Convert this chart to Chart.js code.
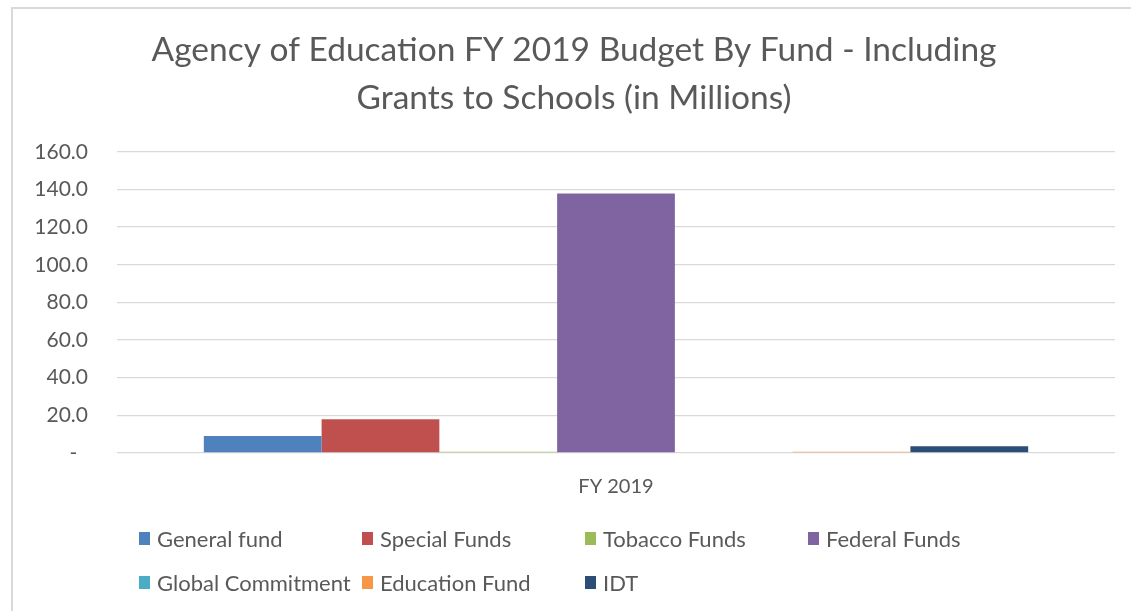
<!DOCTYPE html>
<html>
<head>
<meta charset="utf-8">
<script src="https://cdn.jsdelivr.net/npm/chart.js@4.4.1/dist/chart.umd.min.js"></script>
<style>
html,body{margin:0;padding:0;width:1131px;height:611px;overflow:hidden;background:#fff;}
#frame{position:absolute;left:11px;top:7px;width:1120px;height:604px;border-left:2px solid #d9d9d9;border-top:2px solid #d9d9d9;box-sizing:border-box;}
#wrap{position:absolute;left:0;top:0;width:1155px;height:611px;}
#legend{position:absolute;left:139px;top:516px;display:grid;grid-template-columns:repeat(4,223px);grid-auto-rows:44px;font-family:Lato,"Open Sans",sans-serif;font-size:22px;color:#595959;}
.item{display:flex;align-items:center;white-space:nowrap;}
.sw{width:11px;height:13px;margin-right:7px;flex:none;}
</style>
</head>
<body>
<div id="frame"></div>
<div id="wrap"><canvas id="c" width="1155" height="611"></canvas></div>
<div id="legend"></div>
<script>
const titleLines = ["Agency of Education FY 2019 Budget By Fund - Including", "Grants to Schools (in Millions)"];
const categories = ["FY 2019"];
const seriesNames = ["General fund", "Special Funds", "Tobacco Funds", "Federal Funds", "Global Commitment", "Education Fund", "IDT"];
const seriesValues = [9.0, 17.9, 0.7, 137.8, 0.0, 0.7, 3.6];
const seriesColors = ["#4F81BD", "#C0504D", "#9BBB59", "#8064A2", "#4BACC6", "#F79646", "#2C4D75"];
const yTicks = [0, 20, 40, 60, 80, 100, 120, 140, 160];

const FONT = 'Lato, "Open Sans", sans-serif';
const TXT = '#595959';

const datasets = seriesNames.map((name, i) => ({
  label: name,
  data: [seriesValues[i]],
  backgroundColor: seriesColors[i],
  borderWidth: 0,
  categoryPercentage: 0.826,
  barPercentage: 1.0
}));

const chart = new Chart(document.getElementById('c'), {
  type: 'bar',
  data: { labels: categories, datasets },
  options: {
    responsive: false,
    animation: false,
    devicePixelRatio: 1,
    layout: { padding: { left: 33, right: 40, top: 0, bottom: 98 } },
    plugins: {
      legend: { display: false },
      tooltip: { enabled: false },
      title: {
        display: true,
        text: titleLines,
        color: TXT,
        font: { family: FONT, size: 33.5, weight: 'normal', lineHeight: 1.43 },
        padding: { top: 26, bottom: 30 }
      }
    },
    scales: {
      x: {
        grid: { display: false, drawTicks: false },
        border: { display: false },
        ticks: { color: TXT, font: { family: FONT, size: 20 }, padding: 22 },
        afterFit(scale) { scale.height = 60; }
      },
      y: {
        min: yTicks[0],
        max: yTicks[yTicks.length - 1],
        afterBuildTicks(scale) { scale.ticks = yTicks.map(v => ({ value: v })); },
        grid: { color: '#D9D9D9', lineWidth: 1.3, drawTicks: false },
        border: { display: false },
        ticks: {
          color: TXT,
          font: { family: FONT, size: 21 },
          padding: 29,
          callback: v => v === 0 ? '-  ' : Number(v).toFixed(1)
        },
        afterFit(scale) { scale.width = 84; }
      }
    }
  }
});

const leg = document.getElementById('legend');
chart.data.datasets.forEach(ds => {
  const it = document.createElement('div');
  it.className = 'item';
  const sw = document.createElement('span');
  sw.className = 'sw';
  sw.style.background = ds.backgroundColor;
  const tx = document.createElement('span');
  tx.textContent = ds.label;
  it.appendChild(sw); it.appendChild(tx);
  leg.appendChild(it);
});
</script>
</body>
</html>
